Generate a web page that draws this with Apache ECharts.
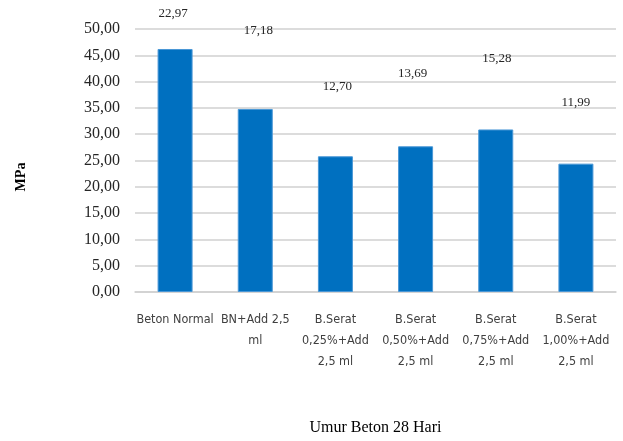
<!DOCTYPE html>
<html>
<head>
<meta charset="utf-8">
<script src="https://cdn.jsdelivr.net/npm/echarts@6/dist/echarts.min.js"></script>
<style>
  html, body { margin: 0; padding: 0; background: #fff; }
  #chart { width: 623px; height: 441px; }
</style>
</head>
<body>
<div id="chart"></div>
<script>
// Mix designs (wrapped as they appear under each bar)
const categories = [
  'Beton Normal',
  'BN+Add 2,5\nml',
  'B.Serat\n0,25%+Add\n2,5 ml',
  'B.Serat\n0,50%+Add\n2,5 ml',
  'B.Serat\n0,75%+Add\n2,5 ml',
  'B.Serat\n1,00%+Add\n2,5 ml'
];
// Bar heights in MPa
const strength = [46.2, 34.8, 25.8, 27.7, 30.9, 24.4];
// Text shown above each bar
const barLabels = ['22,97', '17,18', '12,70', '13,69', '15,28', '11,99'];
// Y axis ticks
const yMin = 0, yMax = 50, yStep = 5;

// Per-bar label placement (pixel offsets from the default 'top' spot)
const labelOffsets = [[-2, -24], [3, -67], [2, -58], [-3, -61], [1, -59], [0, -50]];

const serif = '"Liberation Serif", "Times New Roman", serif';
const narrow = '"DejaVu Sans Condensed", "Liberation Sans Narrow", "Arial Narrow", sans-serif';

const chart = echarts.init(document.getElementById('chart'));
chart.setOption({
  animation: false,
  backgroundColor: '#ffffff',
  grid: { left: 135, right: 7, top: 29, bottom: 144, containLabel: false },
  xAxis: {
    type: 'category',
    data: categories,
    axisLine: { show: true, lineStyle: { color: '#d0d0d0', width: 1.5 } },
    axisTick: { show: false },
    axisLabel: {
      interval: 0,
      margin: 17,
      fontFamily: narrow,
      fontSize: 12.5,
      lineHeight: 21,
      color: '#404040'
    },
    name: 'Umur Beton 28 Hari',
    nameLocation: 'middle',
    nameGap: 128,
    nameTextStyle: { fontFamily: serif, fontSize: 16, color: '#000' }
  },
  yAxis: {
    type: 'value',
    min: yMin,
    max: yMax,
    interval: yStep,
    axisLine: { show: false },
    axisTick: { show: false },
    splitLine: { lineStyle: { color: '#d0d0d0', width: 1.5 } },
    axisLabel: {
      margin: 15,
      fontFamily: serif,
      fontSize: 16,
      color: '#262626',
      formatter: v => v.toFixed(2).replace('.', ',')
    }
  },
  graphic: [{
    type: 'text',
    x: 21,
    y: 177,
    rotation: Math.PI / 2,
    style: {
      text: 'MPa',
      fontFamily: serif,
      fontSize: 14,
      fontWeight: 'bold',
      fill: '#000',
      align: 'center',
      verticalAlign: 'middle'
    }
  }],
  series: [{
    type: 'bar',
    barWidth: 35,
    itemStyle: { color: '#0070C0', borderColor: '#4a97d6', borderWidth: 1 },
    data: strength.map((v, i) => ({
      value: v,
      label: { offset: labelOffsets[i] }
    })),
    label: {
      show: true,
      position: 'top',
      distance: 5,
      fontFamily: serif,
      fontSize: 13,
      color: '#262626',
      formatter: p => barLabels[p.dataIndex]
    }
  }]
});
</script>
</body>
</html>
